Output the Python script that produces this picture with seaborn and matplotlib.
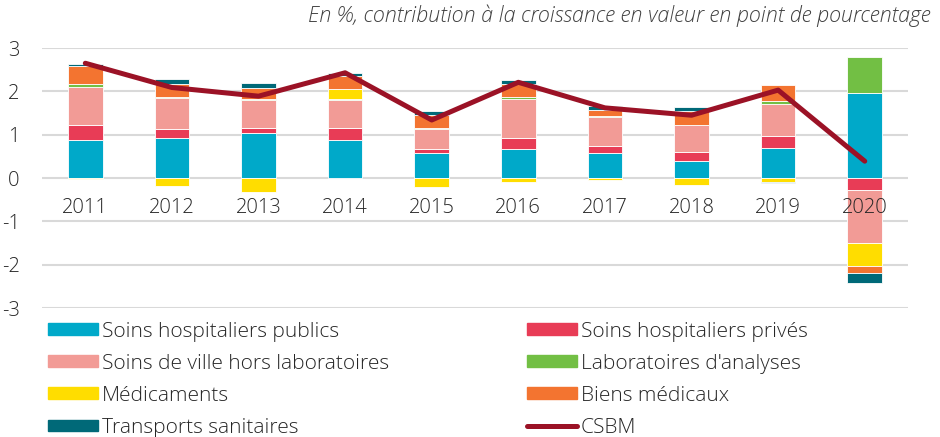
import numpy as np
import pandas as pd
import seaborn as sns
import matplotlib.pyplot as plt
from matplotlib.lines import Line2D

# Données (contribution à la croissance, en points)
annees = ['2011', '2012', '2013', '2014', '2015', '2016', '2017', '2018', '2019', '2020']
hosp_publics = [0.88, 0.92, 1.03, 0.87, 0.57, 0.67, 0.59, 0.39, 0.69, 1.97]
hosp_prives = [0.34, 0.21, 0.13, 0.29, 0.11, 0.26, 0.16, 0.22, 0.27, -0.27]
soins_ville = [0.88, 0.71, 0.64, 0.65, 0.46, 0.90, 0.66, 0.61, 0.74, -1.23]
laboratoires = [0.08, 0.02, 0.02, 0.02, 0.01, 0.04, 0.03, 0.01, 0.07, 0.83]
medicaments = [-0.02, -0.18, -0.31, 0.22, -0.21, -0.08, -0.05, -0.15, -0.09, -0.52]
biens_medicaux = [0.40, 0.30, 0.25, 0.31, 0.30, 0.31, 0.14, 0.32, 0.37, -0.17]
transports = [0.06, 0.12, 0.12, 0.06, 0.09, 0.09, 0.09, 0.08, -0.03, -0.23]
csbm = [2.65, 2.09, 1.89, 2.43, 1.34, 2.21, 1.62, 1.45, 2.03, 0.39]

series = [
    ('Soins hospitaliers publics', hosp_publics, '#00a9c9'),
    ('Soins hospitaliers privés', hosp_prives, '#e83c56'),
    ('Soins de ville hors laboratoires', soins_ville, '#f29b96'),
    ('Laboratoires d\'analyses', laboratoires, '#72bf44'),
    ('Médicaments', medicaments, '#ffdd00'),
    ('Biens médicaux', biens_medicaux, '#f37430'),
    ('Transports sanitaires', transports, '#006978'),
]

sns.set_style('white')
plt.rcParams['font.family'] = ['Open Sans', 'DejaVu Sans']
plt.rcParams['font.weight'] = 'light'
plt.rcParams['font.size'] = 14
txt = '#262626'

fig = plt.figure(figsize=(9.4, 4.37), dpi=100)
ax = fig.add_axes([0.0447, 0.295, 0.9213, 0.595])

# empilement séparé des valeurs positives et négatives
pos = np.zeros(len(annees))
neg = np.zeros(len(annees))
handles = {}
for nom, vals, couleur in series:
    vals = np.array(vals)
    bas = np.where(vals >= 0, pos, neg)
    df = pd.DataFrame({'annee': annees, 'val': vals})
    sns.barplot(data=df, x='annee', y='val', order=annees, color=couleur,
                bottom=bas, width=0.4, edgecolor='white', linewidth=0.6,
                saturation=1, ax=ax, errorbar=None)
    pos = pos + np.where(vals >= 0, vals, 0)
    neg = neg + np.where(vals < 0, vals, 0)
    handles[nom] = plt.Rectangle((0, 0), 1, 1, color=couleur)

sns.lineplot(x=np.arange(len(annees)), y=csbm, color='#9b1226', linewidth=3.6,
             solid_capstyle='round', solid_joinstyle='round', ax=ax)
handles['CSBM'] = Line2D([], [], color='#9b1226', linewidth=3.6, solid_capstyle='round')

ax.set_ylim(-3, 3)
ax.set_xlim(-0.5, len(annees) - 0.5)
ax.set_yticks([-3, -2, -1, 0, 1, 2, 3])
ax.set_yticklabels(['-3', '-2', '-1', '0', '1', '2', '3'])
ax.set_xlabel('')
ax.set_ylabel('')
ax.yaxis.grid(True, color='#d9d9d9', linewidth=1.5)
ax.set_axisbelow(True)
ax.xaxis.set_zorder(5)
for s in ax.spines.values():
    s.set_visible(False)
ax.spines['bottom'].set_position(('data', 0))
ax.tick_params(axis='x', length=0, pad=14, labelsize=14.5, colors=txt)
ax.tick_params(axis='y', length=0, pad=16, labelsize=14.5, colors=txt)

fig.text(0.99, 0.965, 'En %, contribution à la croissance en valeur en point de pourcentage',
         ha='right', va='center', style='italic', fontsize=15.5, color='#404040')

ordre = ['Soins hospitaliers publics', 'Soins de ville hors laboratoires', 'Médicaments',
         'Transports sanitaires', 'Soins hospitaliers privés', 'Laboratoires d\'analyses',
         'Biens médicaux', 'CSBM']
fig.legend([handles[k] for k in ordre], ordre, ncol=2, loc='upper left',
           bbox_to_anchor=(0.042, 0.283), frameon=False, handlelength=2.4,
           handleheight=0.5, handletextpad=0.2, columnspacing=6.6,
           labelspacing=0.58, fontsize=15, labelcolor=txt, borderaxespad=0)

fig.savefig('out.png', dpi=100)
